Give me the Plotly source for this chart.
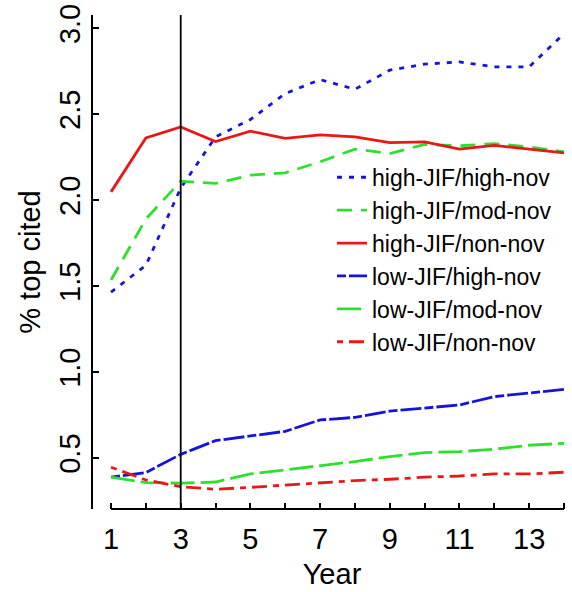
import plotly.graph_objects as go

years = list(range(1, 15))

high_jif_high_nov = [1.465, 1.62, 2.07, 2.368, 2.469, 2.620, 2.701, 2.645, 2.756, 2.791, 2.804, 2.775, 2.775, 2.969]
high_jif_mod_nov = [1.535, 1.89, 2.110, 2.097, 2.145, 2.159, 2.223, 2.297, 2.271, 2.324, 2.316, 2.329, 2.310, 2.281]
high_jif_non_nov = [2.048, 2.362, 2.426, 2.341, 2.401, 2.359, 2.380, 2.368, 2.335, 2.339, 2.297, 2.318, 2.297, 2.275]
low_jif_high_nov = [0.388, 0.415, 0.521, 0.601, 0.628, 0.655, 0.721, 0.736, 0.773, 0.789, 0.808, 0.857, 0.876, 0.899]
low_jif_mod_nov = [0.388, 0.357, 0.353, 0.360, 0.407, 0.430, 0.453, 0.479, 0.508, 0.531, 0.537, 0.551, 0.574, 0.585]
low_jif_non_nov = [0.446, 0.372, 0.333, 0.318, 0.329, 0.343, 0.357, 0.368, 0.376, 0.388, 0.395, 0.407, 0.407, 0.417]

series_names = ["high-JIF/high-nov", "high-JIF/mod-nov", "high-JIF/non-nov",
                "low-JIF/high-nov", "low-JIF/mod-nov", "low-JIF/non-nov"]
series_values = [high_jif_high_nov, high_jif_mod_nov, high_jif_non_nov,
                 low_jif_high_nov, low_jif_mod_nov, low_jif_non_nov]

x_tickvals = years
x_ticktext = [str(y) if y % 2 == 1 else "" for y in years]
y_tickvals = [0.5, 1.0, 1.5, 2.0, 2.5, 3.0]
y_ticktext = ["0.5", "1.0", "1.5", "2.0", "2.5", "3.0"]
cutoff_year = 3

BLUE = "#1414dc"
GREEN = "#2ee02e"
RED = "#e81818"
styles = [
    (BLUE, "5px,7px"),
    (GREEN, "15px,9px"),
    (RED, "solid"),
    (BLUE, "9px,3px,21px,3px"),
    (GREEN, "24px,6px"),
    (RED, "6px,6px,15px,6px"),
]

FONT = "Liberation Sans, Arial, sans-serif"

fig = go.Figure()
for name, vals, (col, dash) in zip(series_names, series_values, styles):
    fig.add_trace(go.Scatter(x=years, y=vals, mode="lines", name=name,
                             line=dict(color=col, width=2.8, dash=dash)))

# vertical reference line at year 3
fig.add_shape(type="line", xref="x", yref="paper", x0=cutoff_year, x1=cutoff_year,
              y0=0, y1=1, line=dict(color="black", width=1.8))
# x axis line spanning tick range
fig.add_shape(type="line", xref="x", yref="paper", x0=years[0], x1=years[-1],
              y0=0, y1=0, line=dict(color="black", width=1.8))

fig.update_layout(
    width=572, height=592,
    margin=dict(l=93, r=1, t=15, b=83, autoexpand=False),
    paper_bgcolor="white", plot_bgcolor="white",
    font=dict(family=FONT, color="black", size=29),
    showlegend=True,
    legend=dict(x=0.50, y=0.715, xanchor="left", yanchor="top",
                font=dict(size=23, family=FONT), bgcolor="rgba(0,0,0,0)",
                tracegroupgap=0),
)
fig.update_xaxes(range=[0.483, 14.2], showgrid=False, zeroline=False, showline=False,
                 automargin=False,
                 tickvals=x_tickvals, ticktext=x_ticktext, ticks="inside", ticklen=6,
                 tickwidth=1.8, tickcolor="black", tickfont=dict(size=29),
                 ticklabelstandoff=10,
                 title=dict(text="Year", font=dict(size=29), standoff=9))
fig.update_yaxes(range=[0.203, 3.077], showgrid=False, zeroline=False, showline=True,
                 automargin=False,
                 linecolor="black", linewidth=1.8,
                 tickvals=y_tickvals, ticktext=y_ticktext, ticks="inside", ticklen=6,
                 tickwidth=1.8, tickcolor="black", tickangle=-90, tickfont=dict(size=29),
                 title=dict(text="% top cited", font=dict(size=29), standoff=4))

fig.write_html("out.html", config={"displayModeBar": False},
               post_script="document.body.style.margin='0';document.body.style.overflow='hidden';")
